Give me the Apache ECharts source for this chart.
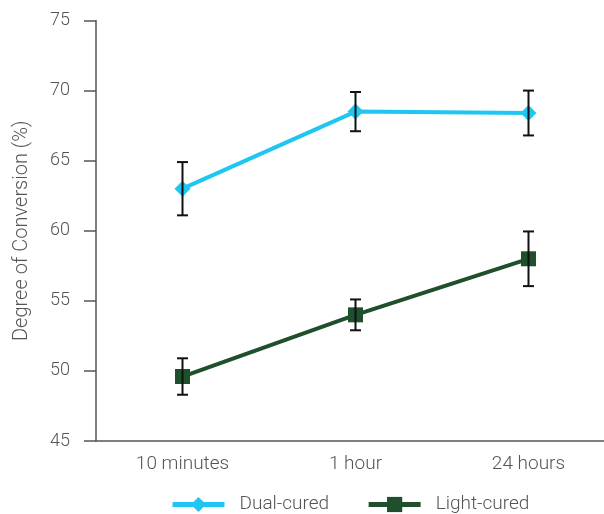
<!DOCTYPE html>
<html>
<head>
<meta charset="utf-8">
<script src="https://cdn.jsdelivr.net/npm/echarts@6/dist/echarts.min.js"></script>
<style>html,body{margin:0;padding:0;background:#fff}#c{width:604px;height:514px}</style>
</head>
<body>
<div id="c"></div>
<script>
const categories = ['10 minutes', '1 hour', '24 hours'];
const dualMean = [63.0, 68.5, 68.4];
const dualErr = [1.9, 1.4, 1.6];
const lightMean = [49.6, 54.0, 58.0];
const lightErr = [1.3, 1.1, 1.95];
const yTicks = [45, 50, 55, 60, 65, 70, 75];

const chart = echarts.init(document.getElementById('c'), null, {renderer: 'canvas'});
const textColor = '#555';
const font = 'Roboto, "Noto Sans", sans-serif';
const fw = 300;
const dualColor = '#1fc6f2';
const lightColor = '#1f4f2c';

function errData(mean, err) {
  return mean.map((m, i) => [i, m - err[i], m + err[i]]);
}
function errRender(params, api) {
  const x = api.value(0);
  const lo = api.coord([x, api.value(1)]);
  const hi = api.coord([x, api.value(2)]);
  const w = 5.5;
  const st = {stroke: '#111', lineWidth: 2};
  return {
    type: 'group',
    children: [
      {type: 'line', shape: {x1: lo[0], y1: lo[1], x2: hi[0], y2: hi[1]}, style: st},
      {type: 'line', shape: {x1: lo[0] - w, y1: lo[1], x2: lo[0] + w, y2: lo[1]}, style: st},
      {type: 'line', shape: {x1: hi[0] - w, y1: hi[1], x2: hi[0] + w, y2: hi[1]}, style: st}
    ]
  };
}

chart.setOption({
  animation: false,
  backgroundColor: '#fff',
  grid: {left: 96, top: 20.5, width: 519, height: 420.5, containLabel: false, outerBoundsMode: 'none'},
  legend: {
    top: 490,
    left: 165,
    itemWidth: 52,
    itemHeight: 19,
    itemGap: 37,
    data: [
      {name: 'Dual-cured', itemStyle: {color: dualColor}, lineStyle: {color: dualColor, width: 5}},
      {name: 'Light-cured', itemStyle: {color: lightColor}, lineStyle: {color: lightColor, width: 5}}
    ],
    textStyle: {color: textColor, fontSize: 19, fontWeight: fw, fontFamily: font, padding: [0, 0, 0, 10]}
  },
  xAxis: {
    type: 'category',
    data: categories,
    boundaryGap: true,
    axisLine: {lineStyle: {color: '#555', width: 1.5}},
    axisTick: {show: false},
    axisLabel: {color: textColor, fontSize: 19, fontWeight: fw, fontFamily: font, margin: 14}
  },
  yAxis: {
    type: 'value',
    min: 45, max: 75, interval: 5,
    name: 'Degree of Conversion (%)',
    nameLocation: 'middle',
    nameGap: 64,
    nameTextStyle: {color: textColor, fontSize: 20, fontWeight: fw, fontFamily: font},
    splitLine: {show: false},
    axisLine: {show: true, lineStyle: {color: '#555', width: 1.5}},
    axisTick: {show: true, inside: false, length: 12, lineStyle: {color: '#555', width: 1.5}},
    axisLabel: {color: textColor, fontSize: 18, fontWeight: fw, fontFamily: font, margin: 26,
      formatter: v => yTicks.includes(v) ? String(v) : ''}
  },
  series: [
    {
      name: 'Dual-cured', type: 'line', data: dualMean,
      symbol: 'diamond', symbolSize: 16,
      lineStyle: {color: dualColor, width: 4},
      itemStyle: {color: dualColor}, z: 3
    },
    {
      name: 'Light-cured', type: 'line', data: lightMean,
      symbol: 'rect', symbolSize: 15,
      lineStyle: {color: lightColor, width: 4},
      itemStyle: {color: lightColor}, z: 3
    },
    {type: 'custom', renderItem: errRender, data: errData(dualMean, dualErr), z: 4, silent: true,
      encode: {x: 0, y: [1, 2]}},
    {type: 'custom', renderItem: errRender, data: errData(lightMean, lightErr), z: 4, silent: true,
      encode: {x: 0, y: [1, 2]}}
  ]
});
</script>
</body>
</html>
